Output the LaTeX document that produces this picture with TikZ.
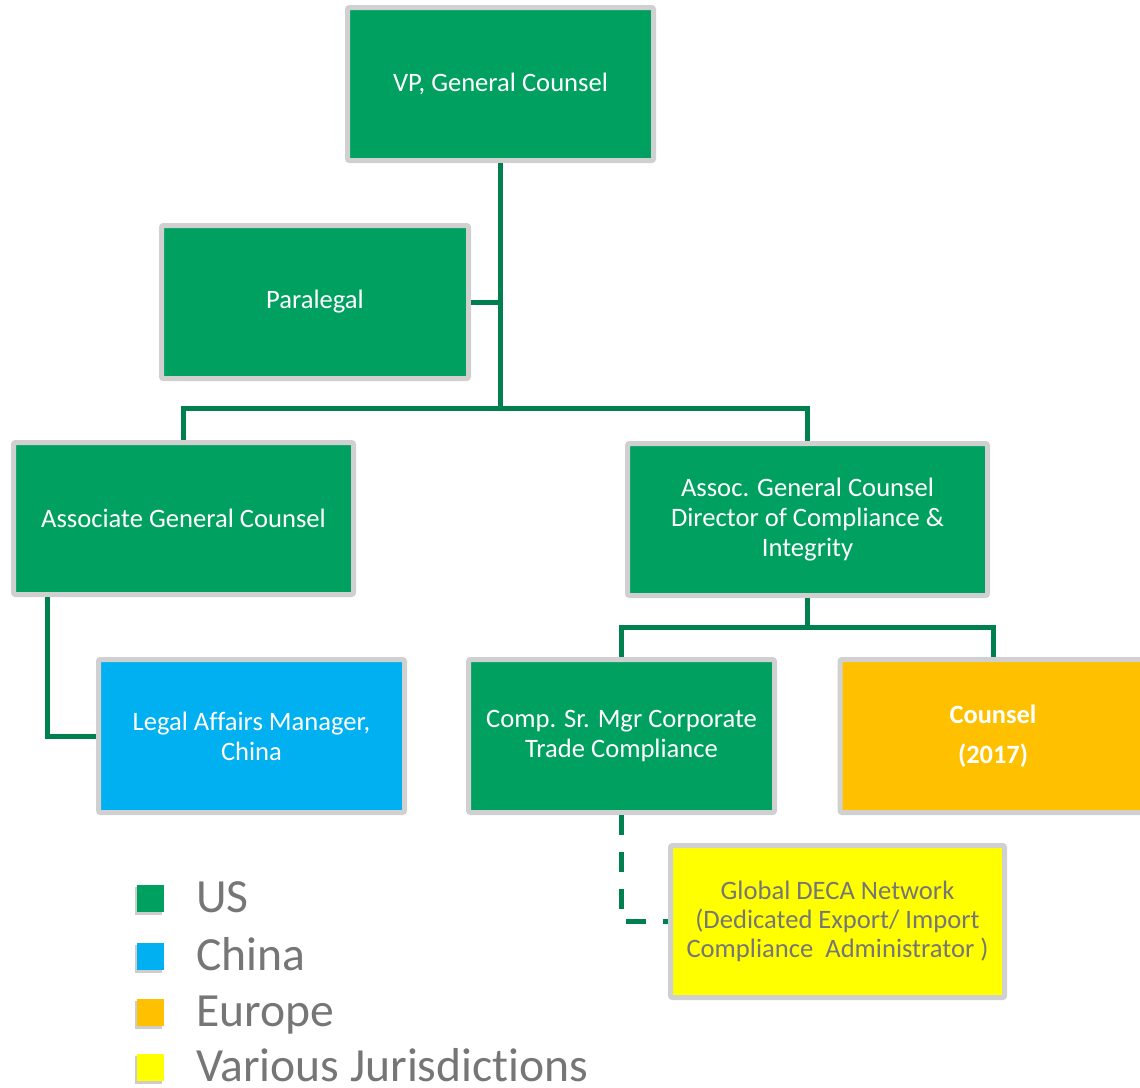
\documentclass[tikz,border=0pt]{standalone}
\usepackage{fontspec}
\setmainfont[Ligatures=NoCommon]{Carlito}
\usetikzlibrary{calc}
\definecolor{usgreen}{RGB}{0,160,96}
\definecolor{lineg}{RGB}{0,128,78}
\definecolor{cnblue}{RGB}{0,176,240}
\definecolor{euorange}{RGB}{255,192,0}
\definecolor{vjyellow}{RGB}{255,255,0}
\definecolor{bordergray}{RGB}{208,208,208}
\definecolor{txtgray}{RGB}{118,118,118}
\definecolor{shadowgray}{RGB}{205,205,205}
\tikzset{
  orgbox/.style={draw=bordergray, line width=5pt, rounded corners=2pt, align=center,
    text=white, font=\fontsize{26.6}{30}\selectfont, inner sep=0pt,
    minimum width=306pt, minimum height=153pt},
  conn/.style={draw=lineg, line width=5pt},
  dashconn/.style={draw=lineg, line width=5pt, dash pattern=on 20pt off 17pt},
  legsq/.style={minimum size=27pt, inner sep=0pt},
  legtxt/.style={anchor=base west, text=txtgray, font=\fontsize{47.6}{50}\selectfont, inner sep=0pt}
}
\begin{document}
\begin{tikzpicture}[x=1pt,y=-1pt]
\clip (0,0) rectangle (1140,1087);
\fill[white] (0,0) rectangle (1140,1087);
% boxes
\node[orgbox, fill=usgreen] (vp) at (500.5,84) {VP, General Counsel};
\node[orgbox, fill=usgreen, minimum width=307pt] (para) at (315,302) {Paralegal};
\node[orgbox, fill=usgreen, minimum width=340pt, minimum height=152pt] (agc) at (183.5,518.5) {Associate General Counsel};
\node[orgbox, fill=usgreen, minimum width=360pt, minimum height=152pt] (dir) at (807.5,519.5) {Assoc. General Counsel\\Director of Compliance \&\\Integrity};
\node[orgbox, fill=cnblue] (legal) at (251.5,736) {Legal Affairs Manager,\\China};
\node[orgbox, fill=usgreen] (comp) at (621.5,736) {Comp. Sr. Mgr Corporate\\Trade Compliance};
\node[orgbox, fill=euorange, font=\bfseries\fontsize{26.4}{40}\selectfont] (counsel) at (993,736) {Counsel\\(2017)};
\node[orgbox, fill=vjyellow, text=txtgray, minimum width=334pt, minimum height=152pt, font=\fontsize{26.6}{29}\selectfont] (deca) at (837.5,921.5) {Global DECA Network\\(Dedicated Export/ Import\\Compliance\ \ Administrator )};
% connectors
\coordinate (j1) at (500.5,408);
\coordinate (j2) at (807.5,627);
\draw[conn] (vp.south) -- (j1);
\draw[conn] (para.east) -- (para.east -| vp.south);
\draw[conn] (j1) -| (agc.north);
\draw[conn] (j1) -| (dir.north);
\draw[conn] ($(agc.south west)+(36,0)$) |- (legal.west);
\draw[conn] (dir.south) -- (j2);
\draw[conn] (j2) -| (comp.north);
\draw[conn] (j2) -| (counsel.north);
\draw[dashconn] (comp.south) |- (deca.west);
% legend
\foreach \c/\y/\t/\n in {usgreen/912/US/lus, cnblue/970/China/lcn, euorange/1026/Europe/leu, vjyellow/1081/Various Jurisdictions/lvj}{
  \fill[shadowgray] (135,\y-25) rectangle (162,\y+3);
  \node[legsq, fill=\c, anchor=south west] (\n sq) at (137,\y) {};
  \node[legtxt] (\n) at (196,\y) {\t};
}
\end{tikzpicture}
\end{document}
